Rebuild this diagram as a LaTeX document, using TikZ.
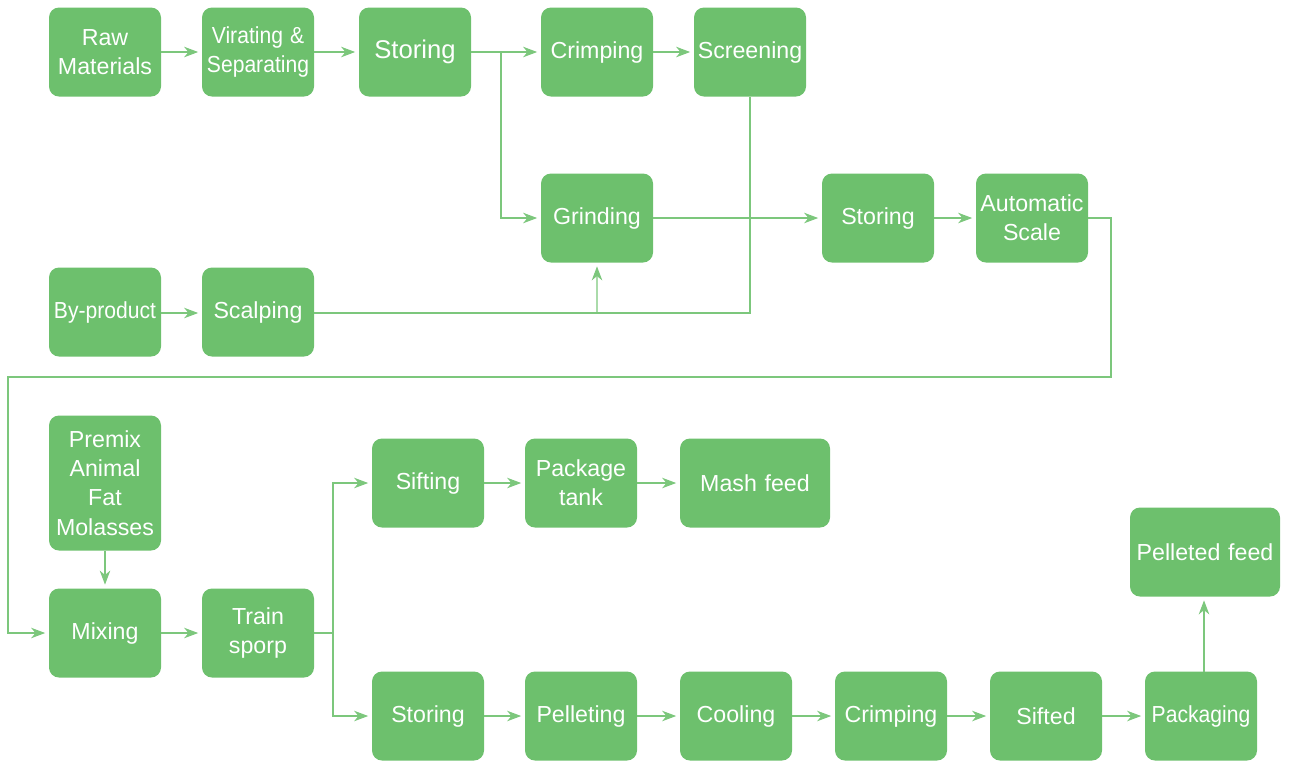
\documentclass[tikz,border=0pt]{standalone}
\usepackage{fontspec}
\usepackage{graphicx}
\setmainfont{Liberation Sans}
\usetikzlibrary{arrows.meta}
\definecolor{feedgreen}{HTML}{6DC06D}
\definecolor{linegreen}{HTML}{7CC77C}

\tikzstyle{s} = [rectangle, rounded corners=0.2cm, minimum width=2.24cm, minimum height=1.78cm, text width=2.2cm, inner sep=0pt, align=center, fill=feedgreen, text=white, font=\fontsize{13.2}{16.7}\selectfont]
\tikzstyle{wide} = [s, minimum width=3cm, text width=2.9cm]
\tikzstyle{tall} = [s, minimum height=2.7cm]
\tikzstyle{big} = [s, font=\fontsize{14.6}{17}\selectfont]
\tikzstyle{arr} = [draw=linegreen, line width=0.6pt, -{Stealth[length=8pt,width=6pt,inset=2.5pt]}, shorten >=2pt]
\tikzstyle{ln} = [draw=linegreen, line width=0.6pt]
\newcommand{\squeeze}[1]{\scalebox{0.91}[1]{#1}}

\begin{document}
\begin{tikzpicture}[node distance=3.06cm]
        \useasboundingbox (0,0) rectangle (25.78,-15.20);
        \node[s] (raw) at (2.10,-1.04) {Raw\\Materials};
        \node[s] (vs) [right of=raw] {\squeeze{Virating \&}\\\squeeze{Separating}};
        \node[big] (st1) [right of=vs, xshift=0.08cm] {Storing};
        \node[s] (cr1) [right of=st1, xshift=0.58cm] {Crimping};
        \node[s] (sc) [right of=cr1] {Screening};
        \node[s] (gr) [below of=cr1, yshift=-0.26cm] {Grinding};
        \node[s] (st2) [right of=gr, xshift=2.56cm] {Storing};
        \node[s] (as) [right of=st2, xshift=0.02cm] {Automatic\\Scale};
        \node[s] (bp) at (2.10,-6.24) {\squeeze{By-product}};
        \node[s] (scp) [right of=bp] {Scalping};
        \node[tall] (pm) at (2.10,-9.66) {Premix\\Animal\\Fat\\Molasses};
        \node[s] (mx) at (2.10,-12.66) {Mixing};
        \node[s] (tr) [right of=mx] {Train\\sporp};
        \node[s] (sf) at (8.56,-9.66) {Sifting};
        \node[s] (pt) [right of=sf] {Package\\tank};
        \node[wide] (mf) [right of=pt, xshift=0.42cm] {Mash feed};
        \node[s] (st3) at (8.56,-14.32) {Storing};
        \node[s] (pl) [right of=st3] {Pelleting};
        \node[s] (co) [right of=pl, xshift=0.04cm] {Cooling};
        \node[s] (cr2) [right of=co, xshift=0.04cm] {Crimping};
        \node[s] (sd) [right of=cr2, xshift=0.04cm] {Sifted};
        \node[s] (pk) [right of=sd, xshift=0.04cm] {\squeeze{Packaging}};
        \node[wide] (pf) at (24.10,-11.04) {Pelleted feed};
        \coordinate (br1) at (10.02,-1.04);
        \coordinate (jn) at (11.94,-6.26);
        \coordinate (c1) at (22.22,-7.54);
        \coordinate (c2) at (0.16,-7.54);
        \coordinate (br2) at (6.66,-12.66);
        \coordinate (pkn) at (24.08,-13.43);
        \draw[arr] (raw) -- (vs);
        \draw[arr] (vs) -- (st1);
        \draw[arr] (st1) -- (cr1);
        \draw[arr] (br1) |- (gr.west);
        \draw[arr] (cr1) -- (sc);
        \draw[arr] (bp.east |- jn) -- (scp.west |- jn);
        \draw[ln] (sc.south) |- (jn);
        \draw[ln] (scp.east |- jn) -- (jn);
        \draw[arr] (jn) -- (gr.south);
        \draw[arr] (gr) -- (st2);
        \draw[arr] (st2) -- (as);
        \draw[arr] (as.east) -| (c1) -- (c2) |- (mx.west);
        \draw[arr] (pm) -- (mx);
        \draw[arr] (mx) -- (tr);
        \draw[ln] (tr.east) -- (br2);
        \draw[arr] (br2) |- (sf.west);
        \draw[arr] (br2) |- (st3.west);
        \draw[arr] (sf) -- (pt);
        \draw[arr] (pt) -- (mf);
        \draw[arr] (st3) -- (pl);
        \draw[arr] (pl) -- (co);
        \draw[arr] (co) -- (cr2);
        \draw[arr] (cr2) -- (sd);
        \draw[arr] (sd) -- (pk);
        \draw[arr] (pkn) -- (pf.south -| pkn);
    \end{tikzpicture}
\end{document}
